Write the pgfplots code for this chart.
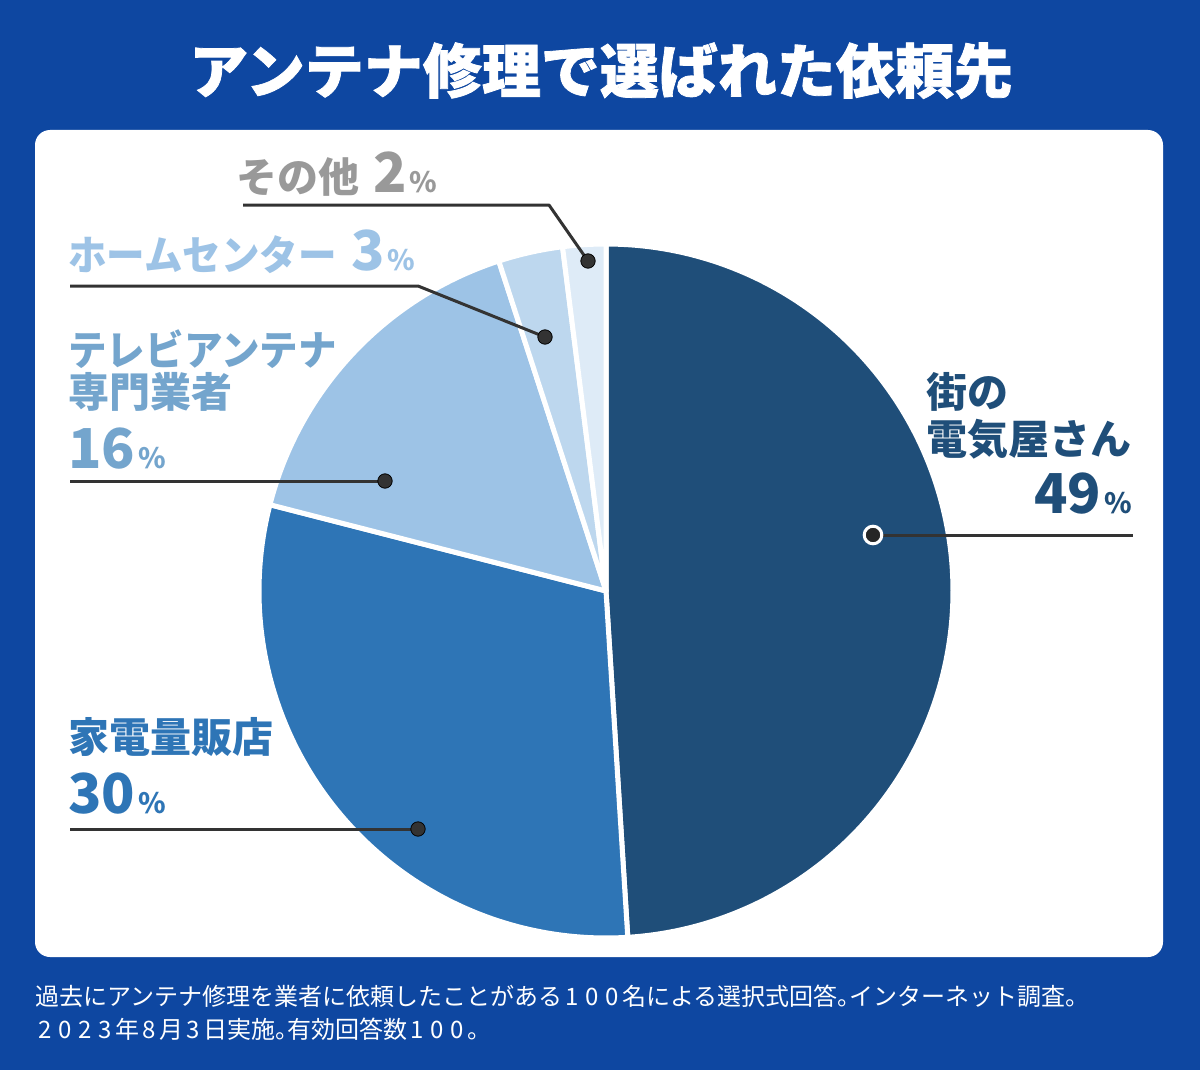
\documentclass[border=0pt]{standalone}
\usepackage{fontspec}
\setmainfont{Noto Sans CJK JP}
\newfontfamily\titlefont{Noto Sans CJK JP}[BoldFeatures={FakeBold=1.3}]
\newfontfamily\narrowfont{Noto Sans CJK JP}[FakeStretch=0.94]
\usepackage{pgfplots}
\pgfplotsset{compat=1.18}
\definecolor{bg}{HTML}{0E47A1}
\definecolor{s1}{HTML}{1F4E79}
\definecolor{s2}{HTML}{2E75B6}
\definecolor{s3}{HTML}{9DC3E6}
\definecolor{s4}{HTML}{BDD7EE}
\definecolor{s5}{HTML}{DEEBF7}
\definecolor{l3}{HTML}{74A5CD}
\definecolor{lead}{HTML}{333333}
\definecolor{gr}{HTML}{999999}
\newcommand{\lab}{\fontsize{20.5pt}{24pt}\selectfont\bfseries}
\newcommand{\nlab}{\narrowfont\fontsize{20.5pt}{24pt}\selectfont\bfseries}
\newcommand{\num}{\fontsize{27.5pt}{30pt}\selectfont\bfseries}
\newcommand{\pct}{\fontsize{14pt}{16pt}\selectfont\bfseries}
\newcommand{\dg}[1]{\makebox[10pt]{#1}}
\newcommand{\maru}{\makebox[6pt][l]{。}}
% Shares (%): 49, 30, 16, 3, 2 -> cumulative angles clockwise from top: 0, 176.4, 284.4, 342, 352.8, 360
\begin{document}
\begin{tikzpicture}
\begin{axis}[width=600pt,height=535pt,scale only axis,
  xmin=0,xmax=1200,ymin=0,ymax=1070,y dir=reverse,
  hide axis,clip=false]
\fill[bg] (0,0) rectangle (1200,1070);
\fill[white,rounded corners=7.5pt] (35,130) rectangle (1163,957);
% pie slices
\addplot[fill=s1,draw=white,line width=2.5pt,line join=round,domain=0:176.4,samples=150]
  ({606+347*sin(x)},{591-347*cos(x)}) -- (606,591) -- cycle;
\addplot[fill=s2,draw=white,line width=2.5pt,line join=round,domain=176.4:284.4,samples=100]
  ({606+347*sin(x)},{591-347*cos(x)}) -- (606,591) -- cycle;
\addplot[fill=s3,draw=white,line width=2.5pt,line join=round,domain=284.4:342,samples=60]
  ({606+347*sin(x)},{591-347*cos(x)}) -- (606,591) -- cycle;
\addplot[fill=s4,draw=white,line width=2.5pt,line join=round,domain=342:352.8,samples=20]
  ({606+347*sin(x)},{591-347*cos(x)}) -- (606,591) -- cycle;
\addplot[fill=s5,draw=white,line width=2.5pt,line join=round,domain=352.8:360,samples=20]
  ({606+347*sin(x)},{591-347*cos(x)}) -- (606,591) -- cycle;
% leader lines
\addplot[lead,line width=1.5pt] coordinates {(873,535) (1133,535)};
\addplot[lead,line width=1.5pt] coordinates {(70,829) (418,829)};
\addplot[lead,line width=1.5pt] coordinates {(70,481) (385,481)};
\addplot[lead,line width=1.5pt,line join=round] coordinates {(70,286) (418,286) (545,337)};
\addplot[lead,line width=1.5pt,line join=round] coordinates {(243,205) (549,205) (588,261)};
\addplot[only marks,mark=*,mark size=3.6pt,mark options={fill=lead,draw=none}]
  coordinates {(418,829) (385,481) (545,337) (588,261)};
\addplot[only marks,mark=*,mark size=4.4pt,mark options={fill=black!85,draw=white,line width=1.5pt}]
  coordinates {(873,535)};
% title
\node[anchor=base,text=white,font=\titlefont\fontsize{29.5pt}{32pt}\selectfont\bfseries] at (601,93) {アンテナ修理で選ばれた依頼先};
% labels
\node[anchor=base west,text=s1,font=\lab,inner sep=0pt] at (926,407) {街の};
\node[anchor=base east,text=s1,font=\lab,inner sep=0pt] at (1132,454) {電気屋さん};
\node[anchor=base east,text=s1,inner sep=0pt] at (1132,513) {{\num 49}\hspace{1.5pt}{\pct\%}};
\node[anchor=base west,text=s2,font=\lab,inner sep=0pt] at (68,752) {家電量販店};
\node[anchor=base west,text=s2,inner sep=0pt] at (68,813) {{\num 30}\hspace{1.5pt}{\pct\%}};
\node[anchor=base west,text=l3,inner sep=0pt] at (68,365) {{\nlab テレビアンテナ}};
\node[anchor=base west,text=l3,font=\lab,inner sep=0pt] at (68,407) {専門業者};
\node[anchor=base west,text=l3,inner sep=0pt] at (68,468) {{\num 16}\hspace{1.5pt}{\pct\%}};
\node[anchor=base west,text=s3,inner sep=0pt] at (68,270) {{\nlab ホームセンター}\hspace{7pt}{\num 3}\hspace{1.5pt}{\pct\%}};
\node[anchor=base west,text=gr,inner sep=0pt] at (236,192) {{\lab その他}\hspace{7pt}{\num 2}\hspace{1.5pt}{\pct\%}};
% footnote
\node[anchor=base west,text=white,font=\fontsize{12pt}{14pt}\selectfont,inner sep=0pt] at (35,1005) {過去にアンテナ修理を業者に依頼したことがある\dg{1}\dg{0}\dg{0}名による選択式回答\maru インターネット調査\maru};
\node[anchor=base west,text=white,font=\fontsize{12pt}{14pt}\selectfont,inner sep=0pt] at (35,1038) {\dg{2}\dg{0}\dg{2}\dg{3}年\dg{8}月\dg{3}日実施\maru 有効回答数\dg{1}\dg{0}\dg{0}\maru};
\end{axis}
\end{tikzpicture}
\end{document}
